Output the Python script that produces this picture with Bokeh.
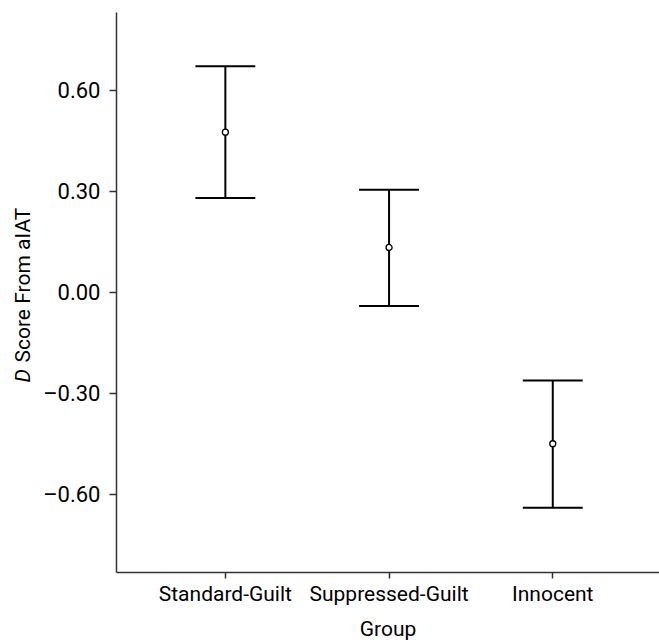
import math
from bokeh.plotting import figure
from bokeh.models import FixedTicker, Range1d, Label
from bokeh.layouts import row
from bokeh.embed import file_html
from bokeh.resources import INLINE

# Data
groups = ["Standard-Guilt", "Suppressed-Guilt", "Innocent"]
means = [0.477, 0.134, -0.450]
upper = [0.673, 0.306, -0.262]
lower = [0.281, -0.040, -0.640]
y_ticks = [-0.60, -0.30, 0.00, 0.30, 0.60]
y_tick_labels = ["\u20130.60", "\u20130.30", "0.00", "0.30", "0.60"]
y_label_italic = "D"
y_label_rest = "Score From aIAT"
x_label = "Group"

FONT = "Roboto"
xs = [i + 1 for i in range(len(groups))]
cap_half = 0.183

# narrow side figure carrying the y-axis title
lab = figure(width=40, height=644, output_backend="svg", toolbar_location=None,
             x_axis_type=None, y_axis_type=None, min_border=0,
             x_range=Range1d(0, 1), y_range=Range1d(0, 1))
lab.outline_line_color = None
lab.grid.grid_line_color = None
lab.add_layout(Label(x=22, y=382, x_units="canvas", y_units="canvas", text=y_label_italic,
                     angle=math.pi / 2, text_font=FONT, text_font_size="21px",
                     text_font_style="italic", text_align="left", text_baseline="middle",
                     text_color="black"))
lab.add_layout(Label(x=22, y=362, x_units="canvas", y_units="canvas", text=y_label_rest,
                     angle=math.pi / 2, text_font=FONT, text_font_size="21px",
                     text_align="left", text_baseline="middle", text_color="black"))

p = figure(width=619, height=644, output_backend="svg", toolbar_location=None,
           x_range=Range1d(0.335, 3.652), y_range=Range1d(-0.833, 0.833),
           min_border_left=75, min_border_right=0, min_border_top=12, min_border_bottom=72)
p.outline_line_color = None
p.grid.grid_line_color = None

# error bars
p.segment(x0=xs, x1=xs, y0=lower, y1=upper, line_color="black", line_width=2)
p.segment(x0=[x - cap_half for x in xs], x1=[x + cap_half for x in xs], y0=upper, y1=upper,
          line_color="black", line_width=2)
p.segment(x0=[x - cap_half for x in xs], x1=[x + cap_half for x in xs], y0=lower, y1=lower,
          line_color="black", line_width=2)
p.scatter(x=xs, y=means, size=6, marker="circle", fill_color="white", line_color="black",
          line_width=1.3)

for ax in (p.xaxis[0], p.yaxis[0]):
    ax.axis_line_color = "#333333"
    ax.axis_line_width = 1.5
    ax.major_tick_line_color = "#333333"
    ax.major_tick_line_width = 1.5
    ax.minor_tick_line_color = None
    ax.major_tick_in = 0
    ax.major_label_text_font = FONT
    ax.major_label_text_color = "black"

p.yaxis.major_label_text_font_size = "22px"
p.yaxis.ticker = FixedTicker(ticks=y_ticks)
p.yaxis.major_label_overrides = {t: l for t, l in zip(y_ticks, y_tick_labels)}
p.yaxis.major_tick_out = 7
p.yaxis.major_label_standoff = 9

p.xaxis.major_label_text_font_size = "21px"
p.xaxis.ticker = FixedTicker(ticks=xs)
p.xaxis.major_label_overrides = {x: g for x, g in zip(xs, groups)}
p.xaxis.major_tick_out = 6
p.xaxis.major_label_standoff = 3
p.xaxis.axis_label = x_label
p.xaxis.axis_label_text_font = FONT
p.xaxis.axis_label_text_font_size = "21px"
p.xaxis.axis_label_text_font_style = "normal"
p.xaxis.axis_label_text_color = "black"
p.xaxis.axis_label_standoff = 8

layout = row(lab, p, spacing=0)
open("out.html", "w").write(file_html(layout, INLINE))
